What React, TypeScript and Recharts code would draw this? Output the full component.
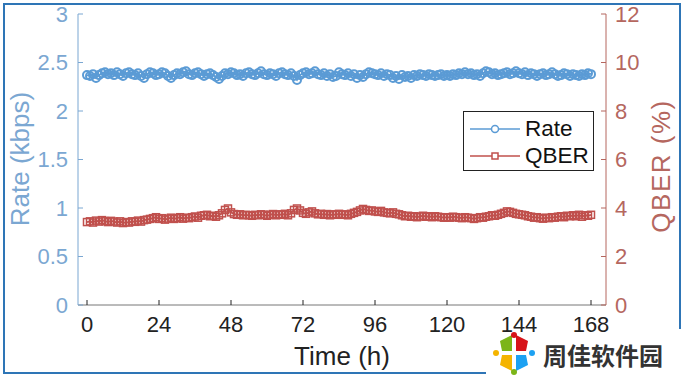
import React from 'react';
import { ComposedChart, Line, XAxis, YAxis } from 'recharts';

const RATE_C = '#5b9bd5';
const QBER_C = '#c0504d';
const LEFT_T = '#7ba7d2';
const RIGHT_T = '#b5675f';
const FONT = 'Liberation Sans, Arial, sans-serif';

// hours 0..168
const hours = [
  0, 1, 2, 3, 4, 5, 6, 7, 8, 9, 10, 11, 12, 13, 14, 15, 16, 17, 18, 19, 20, 21, 22, 23,
  24, 25, 26, 27, 28, 29, 30, 31, 32, 33, 34, 35, 36, 37, 38, 39, 40, 41, 42, 43, 44, 45, 46, 47,
  48, 49, 50, 51, 52, 53, 54, 55, 56, 57, 58, 59, 60, 61, 62, 63, 64, 65, 66, 67, 68, 69, 70, 71,
  72, 73, 74, 75, 76, 77, 78, 79, 80, 81, 82, 83, 84, 85, 86, 87, 88, 89, 90, 91, 92, 93, 94, 95,
  96, 97, 98, 99, 100, 101, 102, 103, 104, 105, 106, 107, 108, 109, 110, 111, 112, 113, 114, 115, 116, 117, 118, 119,
  120, 121, 122, 123, 124, 125, 126, 127, 128, 129, 130, 131, 132, 133, 134, 135, 136, 137, 138, 139, 140, 141, 142, 143,
  144, 145, 146, 147, 148, 149, 150, 151, 152, 153, 154, 155, 156, 157, 158, 159, 160, 161, 162, 163, 164, 165, 166, 167,
  168,
];

// kbps
const rate = [
  2.37, 2.36, 2.38, 2.34, 2.37, 2.39, 2.40, 2.38, 2.39, 2.37, 2.40, 2.38,
  2.36, 2.39, 2.40, 2.38, 2.37, 2.39, 2.36, 2.34, 2.38, 2.40, 2.39, 2.37,
  2.38, 2.40, 2.39, 2.36, 2.34, 2.37, 2.39, 2.38, 2.40, 2.41, 2.38, 2.37,
  2.39, 2.40, 2.38, 2.36, 2.38, 2.39, 2.37, 2.35, 2.33, 2.36, 2.39, 2.38,
  2.40, 2.39, 2.37, 2.38, 2.36, 2.39, 2.40, 2.38, 2.37, 2.39, 2.41, 2.38,
  2.37, 2.39, 2.38, 2.36, 2.39, 2.40, 2.38, 2.37, 2.39, 2.36, 2.32, 2.37,
  2.39, 2.40, 2.38, 2.39, 2.41, 2.38, 2.37, 2.39, 2.36, 2.38, 2.35, 2.36,
  2.40, 2.38, 2.37, 2.39, 2.36, 2.38, 2.34, 2.37, 2.35, 2.38, 2.40, 2.39,
  2.38, 2.37, 2.39, 2.36, 2.38, 2.37, 2.34, 2.36, 2.33, 2.37, 2.35, 2.36,
  2.34, 2.37, 2.36, 2.38, 2.37, 2.36, 2.38, 2.37, 2.36, 2.37, 2.38, 2.36,
  2.37, 2.36, 2.38, 2.37, 2.39, 2.38, 2.40, 2.38, 2.39, 2.37, 2.38, 2.36,
  2.39, 2.41, 2.40, 2.38, 2.39, 2.37, 2.38, 2.39, 2.40, 2.38, 2.39, 2.41,
  2.39, 2.38, 2.40, 2.37, 2.39, 2.38, 2.36, 2.38, 2.39, 2.37, 2.38, 2.40,
  2.38, 2.36, 2.37, 2.39, 2.38, 2.36, 2.38, 2.37, 2.36, 2.38, 2.37, 2.39,
  2.38,
];

// %
const qber = [
  3.42, 3.45, 3.40, 3.48, 3.44, 3.50, 3.46, 3.42, 3.47, 3.44, 3.40, 3.45,
  3.38, 3.42, 3.40, 3.45, 3.43, 3.48, 3.44, 3.50, 3.52, 3.55, 3.58, 3.62,
  3.55, 3.58, 3.52, 3.56, 3.60, 3.55, 3.58, 3.62, 3.56, 3.60, 3.58, 3.62,
  3.65, 3.60, 3.68, 3.70, 3.72, 3.66, 3.68, 3.64, 3.70, 3.78, 3.92, 3.98,
  3.82, 3.75, 3.72, 3.74, 3.70, 3.72, 3.70, 3.68, 3.72, 3.70, 3.74, 3.72,
  3.68, 3.72, 3.75, 3.70, 3.74, 3.72, 3.76, 3.70, 3.78, 3.92, 3.98, 3.90,
  3.80, 3.76, 3.82, 3.86, 3.78, 3.74, 3.76, 3.72, 3.75, 3.70, 3.74, 3.72,
  3.76, 3.72, 3.74, 3.70, 3.76, 3.80, 3.84, 3.90, 3.96, 3.92, 3.88, 3.90,
  3.86, 3.84, 3.88, 3.82, 3.80, 3.78, 3.82, 3.76, 3.74, 3.70, 3.66, 3.68,
  3.64, 3.66, 3.62, 3.65, 3.68, 3.64, 3.66, 3.62, 3.66, 3.64, 3.62, 3.60,
  3.62, 3.60, 3.64, 3.62, 3.60, 3.58, 3.62, 3.60, 3.58, 3.55, 3.58, 3.62,
  3.60, 3.64, 3.66, 3.70, 3.68, 3.72, 3.76, 3.80, 3.86, 3.84, 3.80, 3.76,
  3.74, 3.72, 3.70, 3.66, 3.64, 3.60, 3.62, 3.58, 3.56, 3.60, 3.58, 3.62,
  3.60, 3.64, 3.66, 3.62, 3.68, 3.66, 3.70, 3.66, 3.72, 3.64, 3.70, 3.68,
  3.72,
];

const xTicks = [0, 24, 48, 72, 96, 120, 144, 168];
const rateTicks = [0, 0.5, 1, 1.5, 2, 2.5, 3];
const qberTicks = [0, 2, 4, 6, 8, 10, 12];

const data = hours.map((t, i) => ({ t, rate: rate[i], qber: qber[i] }));

const tickFont = { fontSize: 22, fontFamily: FONT };

function SquareDot(props: any) {
  const { cx, cy } = props;
  if (cx == null || cy == null) return null;
  return <rect x={cx - 3.5} y={cy - 3.5} width={7} height={7} fill="none" stroke={QBER_C} strokeWidth={1.5} />;
}

function LegendBox() {
  const rows = [
    { name: 'Rate', color: RATE_C, kind: 'circle' },
    { name: 'QBER', color: QBER_C, kind: 'square' },
  ];
  return (
    <div style={{ position: 'absolute', left: 463, top: 111, width: 131, height: 60, border: '1px solid #222', background: '#fff', boxSizing: 'border-box', fontFamily: FONT }}>
      {rows.map((r, i) => (
        <div key={r.name} style={{ display: 'flex', alignItems: 'center', height: 27, marginTop: i === 0 ? 3 : 0 }}>
          <svg width={56} height={20} style={{ marginLeft: 4 }}>
            <line x1={2} y1={10} x2={52} y2={10} stroke={r.color} strokeWidth={1.5} />
            {r.kind === 'circle'
              ? <circle cx={27} cy={10} r={3.5} fill="#fff" stroke={r.color} strokeWidth={1.5} />
              : <rect x={24} y={7} width={6} height={6} fill="#fff" stroke={r.color} strokeWidth={1.5} />}
          </svg>
          <span style={{ fontSize: 22.5, color: '#111', marginLeft: 1 }}>{r.name}</span>
        </div>
      ))}
    </div>
  );
}

function Logo() {
  return (
    <svg width={44} height={44} viewBox="0 0 44 44">
      <path d="M20 4 L8 10 L10 20 L20 20 Z" fill="#7cb518" />
      <path d="M24 4 L36 10 L34 20 L24 20 Z" fill="#d7141a" />
      <path d="M20 24 L10 24 L8 34 L20 40 Z" fill="#f4b400" />
      <path d="M24 24 L34 24 L36 34 L24 40 Z" fill="#1da1f2" />
      <circle cx={22} cy={4} r={3} fill="#d7141a" />
      <circle cx={4} cy={22} r={3} fill="#f4b400" />
      <circle cx={40} cy={22} r={3} fill="#1da1f2" />
      <circle cx={22} cy={41} r={3} fill="#7cb518" />
    </svg>
  );
}

export default function App() {
  return (
    <div style={{ position: 'absolute', left: 0, top: 0, width: 685, height: 377, background: '#fff', overflow: 'hidden' }}>
      {/* frame, drawn under the chart */}
      <div style={{ position: 'absolute', left: 3, top: 3, width: 678, height: 371, border: '2px solid #2e75b6', boxSizing: 'border-box' }} />
      <div style={{ position: 'absolute', left: 486, top: 329, width: 199, height: 48, background: '#fff' }} />

      <div style={{ position: 'absolute', left: 0, top: 0 }}>
        <ComposedChart width={685} height={377} data={data} margin={{ top: 14, right: 29, bottom: 42, left: 28 }}>
          <XAxis
            xAxisId="bottom" dataKey="t" type="number" domain={[-3, 173]} ticks={xTicks}
            height={30} tickSize={-5} tickMargin={16}
            stroke="#777" tick={{ ...tickFont, fill: '#222' }} axisLine={{ stroke: '#777' }} tickLine={{ stroke: '#222' }}
          />
          <XAxis
            xAxisId="top" orientation="top" dataKey="t" type="number" domain={[-3, 173]} ticks={xTicks}
            height={0} tickSize={-5} tick={false} axisLine={{ stroke: '#333' }} tickLine={{ stroke: '#333' }}
          />
          <YAxis
            yAxisId="left" domain={[0, 3]} ticks={rateTicks} width={50} tickSize={-5} tickMargin={15}
            tick={{ ...tickFont, fill: LEFT_T }} axisLine={{ stroke: LEFT_T }} tickLine={{ stroke: LEFT_T }}
          />
          <YAxis
            yAxisId="right" orientation="right" domain={[0, 12]} ticks={qberTicks} width={50} tickSize={-5} tickMargin={14}
            tick={{ ...tickFont, fill: RIGHT_T }} axisLine={{ stroke: RIGHT_T }} tickLine={{ stroke: RIGHT_T }}
          />
          <Line
            xAxisId="bottom" yAxisId="left" dataKey="rate" type="linear" stroke={RATE_C} strokeWidth={1.8}
            dot={{ r: 4, fill: 'none', stroke: RATE_C, strokeWidth: 2 }} isAnimationActive={false}
          />
          <Line
            xAxisId="bottom" yAxisId="right" dataKey="qber" type="linear" stroke={QBER_C} strokeWidth={1.8}
            dot={<SquareDot />} isAnimationActive={false}
          />
        </ComposedChart>
      </div>

      <LegendBox />

      <div style={{ position: 'absolute', left: 20, top: 159, transform: 'translate(-50%, -50%) rotate(-90deg)', whiteSpace: 'nowrap', fontFamily: FONT, fontSize: 26, color: LEFT_T }}>
        Rate (kbps)
      </div>
      <div style={{ position: 'absolute', left: 661, top: 166, transform: 'translate(-50%, -50%) rotate(-90deg)', whiteSpace: 'nowrap', fontFamily: FONT, fontSize: 26, letterSpacing: 1.5, color: RIGHT_T }}>
        QBER (%)
      </div>
      <div style={{ position: 'absolute', left: 342, top: 356, transform: 'translate(-50%, -50%)', whiteSpace: 'nowrap', fontFamily: FONT, fontSize: 26, color: '#222' }}>
        Time (h)
      </div>

      <div style={{ position: 'absolute', left: 492, top: 331 }}>
        <Logo />
      </div>
      <div style={{ position: 'absolute', left: 543, top: 344, height: 22, lineHeight: '22px', fontFamily: 'Noto Sans CJK SC', fontWeight: 700, fontSize: 24, color: '#333', whiteSpace: 'nowrap' }}>
        周佳软件园
      </div>
    </div>
  );
}
